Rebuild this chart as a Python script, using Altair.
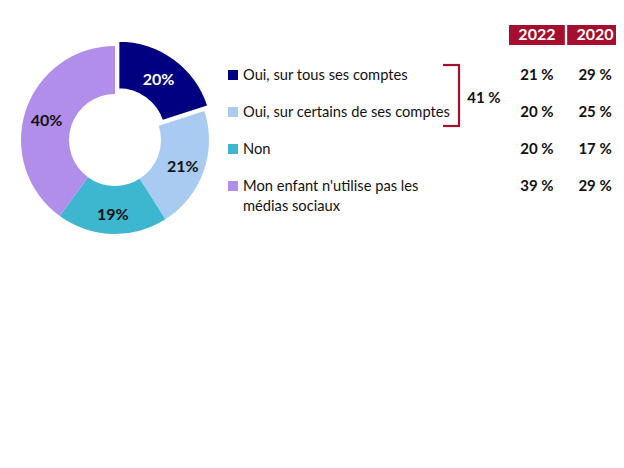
import altair as alt
import pandas as pd

# ---- data ----
categories = ["Oui, sur tous ses comptes", "Oui, sur certains de ses comptes", "Non",
              "Mon enfant n'utilise pas les\nmédias sociaux"]
pie_values = [20, 21, 19, 40]
years = ["2022", "2020"]
values_2022 = [21, 20, 20, 39]
values_2020 = [29, 25, 17, 29]
bracket_total = 41
colors = ["#000080", "#A9CBF2", "#3DB7CF", "#B08EEA"]
accent = "#A50F2D"
FONT = "Lato"

pie_df = pd.DataFrame({"cat": categories, "v": pie_values, "idx": range(len(categories))})
rows = []
for i, c in enumerate(categories):
    rows.append({"cat": c, "year": years[0], "v": values_2022[i]})
    rows.append({"cat": c, "year": years[1], "v": values_2020[i]})
tab_df = pd.DataFrame(rows)
hdr_df = pd.DataFrame({"year": years})
br_df = pd.DataFrame({"t": [bracket_total]})

color_scale = alt.Scale(domain=categories, range=colors)
yscale = alt.Scale(domain=categories, type="point", range=[67, 178], padding=0)
xscale = alt.Scale(domain=years, type="band", range=[501, 615], paddingInner=0.04, paddingOuter=0)

CX, CY = 107, 132
first = alt.datum.cat == categories[0]

base_pie = alt.Chart(pie_df).encode(
    theta=alt.Theta("v:Q", stack=True),
    order=alt.Order("idx:Q"),
    color=alt.Color("cat:N", scale=color_scale, legend=None),
)
ring = base_pie.mark_arc(outerRadius=94, innerRadius=46).encode(
    x=alt.value(CX), y=alt.value(CY),
    opacity=alt.condition(first, alt.value(0), alt.value(1)),
)
ring_ex = base_pie.mark_arc(outerRadius=94, innerRadius=46, stroke="white", strokeWidth=1.5).encode(
    x=alt.value(CX + 3.6), y=alt.value(CY - 5),
    opacity=alt.condition(first, alt.value(1), alt.value(0)),
)
lab = alt.Chart(pie_df).transform_calculate(lbl="datum.v + '%'").mark_text(
    radius=72, font=FONT, fontSize=16, fontWeight="bold", color="#111111", dy=3
).encode(
    theta=alt.Theta("v:Q", stack=True), order=alt.Order("idx:Q"),
    text="lbl:N", x=alt.value(CX), y=alt.value(CY),
    opacity=alt.condition(first, alt.value(0), alt.value(1)),
)
lab_ex = alt.Chart(pie_df).transform_calculate(lbl="datum.v + '%'").mark_text(
    radius=68, font=FONT, fontSize=16, fontWeight="bold", color="white"
).encode(
    theta=alt.Theta("v:Q", stack=True), order=alt.Order("idx:Q"),
    text="lbl:N", x=alt.value(CX + 3.6), y=alt.value(CY - 5),
    opacity=alt.condition(first, alt.value(1), alt.value(0)),
)

squares = alt.Chart(pie_df).mark_square(size=100, opacity=1).encode(
    x=alt.value(225),
    y=alt.Y("cat:N", scale=yscale, axis=None),
    color=alt.Color("cat:N", scale=color_scale, legend=None),
)
names = alt.Chart(pie_df).mark_text(
    align="left", baseline="alphabetic", dy=5, font=FONT, fontSize=14.7, color="#111111",
    lineBreak="\n", lineHeight=20,
).encode(
    x=alt.value(235),
    y=alt.Y("cat:N", scale=yscale, axis=None),
    text="cat:N",
)

hdr_box = alt.Chart(hdr_df).mark_rect(color=accent).encode(
    x=alt.X("year:N", scale=xscale, axis=None),
    y=alt.value(17), y2=alt.value(37),
)
hdr_txt = alt.Chart(hdr_df).mark_text(
    font=FONT, fontSize=16, fontWeight="bold", color="white", baseline="middle"
).encode(
    x=alt.X("year:N", scale=xscale, axis=None),
    y=alt.value(27),
    text="year:N",
)
vals = alt.Chart(tab_df).transform_calculate(lbl="datum.v + '\u00a0%'").mark_text(
    font=FONT, fontSize=15, fontWeight="bold", color="#111111", baseline="alphabetic", dy=5
).encode(
    x=alt.X("year:N", scale=xscale, axis=None),
    y=alt.Y("cat:N", scale=yscale, axis=None),
    text="lbl:N",
)

br_v = alt.Chart(br_df).mark_rule(color=accent, strokeWidth=2.2).encode(
    x=alt.value(451), y=alt.value(57), y2=alt.value(118))
br_t = alt.Chart(br_df).mark_rule(color=accent, strokeWidth=2.2).encode(
    x=alt.value(435), x2=alt.value(452), y=alt.value(57))
br_b = alt.Chart(br_df).mark_rule(color=accent, strokeWidth=2.2).encode(
    x=alt.value(435), x2=alt.value(452), y=alt.value(118))
br_txt = alt.Chart(br_df).transform_calculate(lbl="datum.t + '\u00a0%'").mark_text(
    font=FONT, fontSize=15, fontWeight="bold", color="#111111", baseline="middle"
).encode(x=alt.value(476), y=alt.value(90), text="lbl:N")

chart = alt.layer(
    ring, ring_ex, lab, lab_ex, squares, names, hdr_box, hdr_txt, vals,
    br_v, br_t, br_b, br_txt,
).resolve_scale(color="shared").properties(
    width=608, height=452, padding=0, autosize="none",
).configure_view(stroke=None)

chart.save("out.html", embed_options={"renderer": "svg", "actions": False})
